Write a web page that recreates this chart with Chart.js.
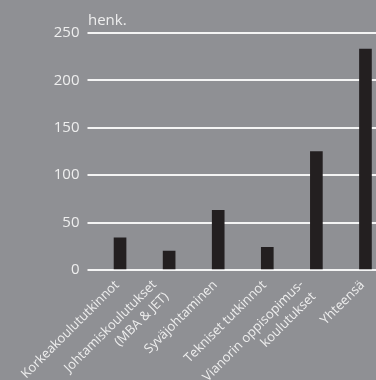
<!DOCTYPE html>
<html>
<head>
<meta charset="utf-8">
<script src="https://cdn.jsdelivr.net/npm/chart.js@4.4.1/dist/chart.umd.min.js"></script>
<style>
html,body{margin:0;padding:0;overflow:hidden;background:#8f9094;}
#wrap{width:390px;height:380px;}
</style>
</head>
<body>
<div id="wrap"><canvas id="c" width="390" height="380"></canvas></div>
<script>
const categories = [
  'Korkeakoulututkinnot',
  ['Johtamiskoulutukset', '(MBA & JET)'],
  'Syväjohtaminen',
  'Tekniset tutkinnot',
  ['Vianorin oppisopimus-', 'koulutukset'],
  'Yhteensä'
];
const values = [34, 20, 63, 24, 125, 233];
const yTicks = [0, 50, 100, 150, 200, 250];
const unitLabel = 'henk.';

const FONT = "'Open Sans', sans-serif";
const TXT = '#eeeeee';

// draws the unit label and the rotated category labels at the x scale's tick positions
const labelPlugin = {
  id: 'labels',
  afterDraw(chart) {
    const ctx = chart.ctx;
    const xs = chart.scales.x;
    ctx.save();
    ctx.fillStyle = TXT;
    ctx.font = "15px " + FONT;
    ctx.textAlign = 'left';
    ctx.textBaseline = 'alphabetic';
    ctx.fillText(unitLabel, 88, 25);

    ctx.font = "13px " + FONT;
    const lh = 17;
    categories.forEach((lab, i) => {
      const lines = Array.isArray(lab) ? lab : [lab];
      const n = lines.length;
      const px = xs.getPixelForTick(i) - 9;
      const py = chart.chartArea.bottom + 7;
      const along = n > 1 ? -8 : 0;
      ctx.save();
      ctx.translate(px, py);
      ctx.rotate(-Math.PI / 4);
      ctx.textAlign = 'right';
      ctx.textBaseline = 'middle';
      lines.forEach((ln, j) => {
        ctx.fillText(ln, along, lh / 2 + (j - (n - 1) / 2) * lh);
      });
      ctx.restore();
    });
    ctx.restore();
  }
};

new Chart(document.getElementById('c'), {
  type: 'bar',
  data: {
    labels: categories,
    datasets: [{
      data: values,
      backgroundColor: '#231f20',
      barThickness: 12
    }]
  },
  options: {
    responsive: false,
    animation: false,
    layout: { padding: { top: 33, left: 0, right: 0, bottom: 0 } },
    plugins: { legend: { display: false }, tooltip: { enabled: false } },
    scales: {
      x: {
        grid: { display: false },
        border: { display: false },
        ticks: { display: false },
        afterFit(s) { s.height = 110; }
      },
      y: {
        min: 0, max: 250,
        afterBuildTicks(s) { s.ticks = yTicks.map(v => ({ value: v })); },
        grid: { color: '#f4f4f4', lineWidth: 2, tickLength: 8, drawTicks: true },
        border: { display: false },
        ticks: {
          color: TXT,
          font: { family: FONT, size: 15 },
          padding: 8
        },
        afterFit(s) { s.width = 95.5; }
      }
    }
  },
  plugins: [labelPlugin]
});
</script>
</body>
</html>
